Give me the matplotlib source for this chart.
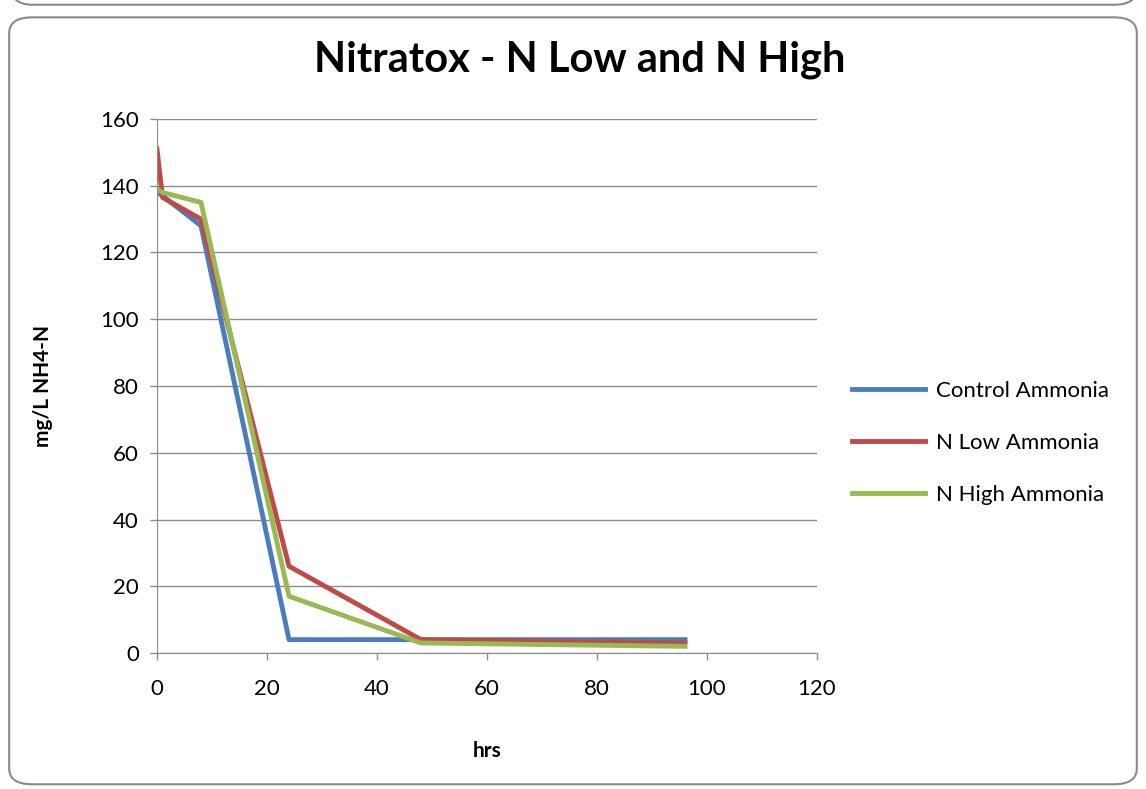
import matplotlib
matplotlib.use("Agg")
import matplotlib.pyplot as plt
from matplotlib.patches import FancyBboxPatch

hrs = [0, 1, 8, 24, 48, 96]
control = [138, 137, 128, 4, 4, 4]
n_low = [151, 136.5, 130, 26, 4, 3]
n_high = [139, 138, 135, 17, 3, 2]

plt.rcParams.update({'font.family': ['Lato', 'DejaVu Sans'], 'font.size': 15})
fig = plt.figure(figsize=[11.46, 7.89], dpi=100)

# rounded border around chart
fig.patches.append(FancyBboxPatch((0.008, 0.006), 0.984, 0.972,
                                  boxstyle="round,pad=0,rounding_size=0.02",
                                  transform=fig.transFigure, fill=False,
                                  edgecolor='#8a8a8a', linewidth=1.5))
fig.patches.append(FancyBboxPatch((0.008, 0.994), 0.984, 0.05,
                                  boxstyle="round,pad=0,rounding_size=0.02",
                                  transform=fig.transFigure, fill=False,
                                  edgecolor='#8a8a8a', linewidth=1.5))

ax = fig.add_axes([157/1146, 1 - 653/789, (817-157)/1146, (653-119)/789])

ax.plot(hrs, control, color='#4a7ebb', lw=3.5, label='Control Ammonia')
ax.plot(hrs, n_low, color='#be4b48', lw=3.5, label='N Low Ammonia')
ax.plot(hrs, n_high, color='#98b954', lw=3.5, label='N High Ammonia')

ax.set_xlim(0, 120)
ax.set_ylim(0, 160)
ax.set_xticks(range(0, 121, 20))
ax.set_yticks(range(0, 161, 20))
ax.yaxis.grid(True, color='#8c8c8c', lw=1)
ax.set_axisbelow(True)
for s in ['top', 'right']:
    ax.spines[s].set_visible(False)
for s in ['left', 'bottom']:
    ax.spines[s].set_color('#8c8c8c')
ax.tick_params(colors='#8c8c8c', labelcolor='black', labelsize=16, length=5, width=1)
ax.tick_params(axis='x', pad=14)
ax.tick_params(axis='y', pad=8)

ax.set_xlabel('hrs', fontweight='bold', fontsize=15, labelpad=30)
ax.set_ylabel('mg/L NH4-N', fontweight='bold', fontsize=15, labelpad=34)

fig.text(580/1146, 1 - 60/789, 'Nitratox - N Low and N High', ha='center', va='center',
         fontsize=30, fontweight='bold')

fig.legend(loc='center left', bbox_to_anchor=(832/1146, 1 - 443/789), frameon=False,
           fontsize=16, handlelength=3.3, labelspacing=1.45, handletextpad=0.5)

plt.savefig('out.png')
